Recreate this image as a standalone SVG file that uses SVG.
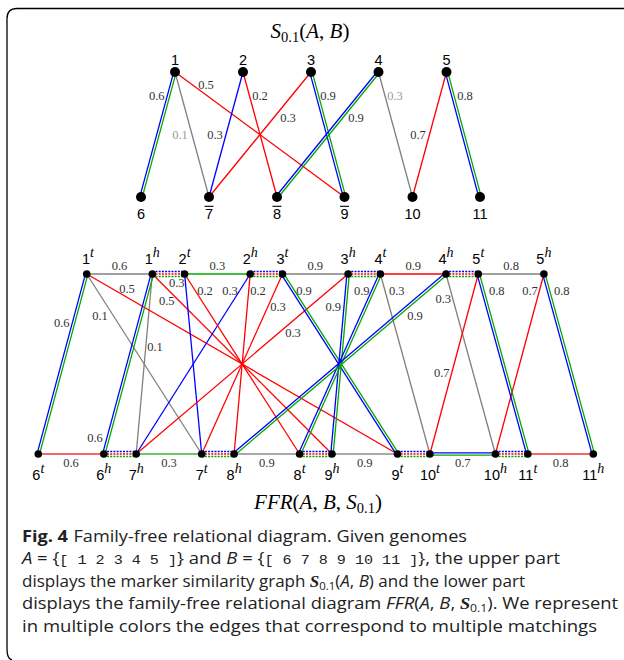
<svg xmlns="http://www.w3.org/2000/svg" width="624" height="660" viewBox="0 0 624 660">
<style>
.e{fill:none;stroke-width:1.3}
.b{stroke:#0000ff}.r{stroke:#ff0000}.g{stroke:#00a800}.k{stroke:#808080}
.d{stroke-dasharray:2 1.2}
.lr{stroke:#f05050;stroke-width:2.2;opacity:.85}
.lg{stroke:#50c050;stroke-width:2.2;opacity:.85}
.lk{stroke:#a8a8a8;stroke-width:2.2}
.w{font-family:"Liberation Serif",serif;font-size:12.5px;fill:#333;text-anchor:middle}
.wg{fill:#999}
.nl{font-family:"Liberation Sans",sans-serif;font-size:14.5px;fill:#000;text-anchor:middle}
.sup{font-family:"Liberation Serif",serif;font-style:italic;font-size:14px}
.m{font-family:"Liberation Serif",serif;font-size:21px;fill:#000;text-anchor:middle}
.i{font-style:italic}
.cap{font-family:"Open Sans",sans-serif;font-size:16.5px;fill:#222}
.mono{font-family:"Liberation Mono",monospace;font-size:13.5px}
</style>
<path d="M624 8.5H17Q7 8.5 7 18.5V649Q7 659 12 660" fill="none" stroke="#000" stroke-width="1.3"/>
<text class="m" x="310" y="38"><tspan class="i">S</tspan><tspan font-size="14.5" dy="4">0.1</tspan><tspan dy="-4">(</tspan><tspan class="i">A</tspan>, <tspan class="i">B</tspan>)</text>
<g id="top-edges">
<line class="e b" x1="173.84" y1="71.69" x2="139.84" y2="196.69"/>
<line class="e g" x1="176.16" y1="72.32" x2="142.16" y2="197.32"/>
<line class="e k" x1="175" y1="72" x2="209" y2="197"/>
<line class="e r" x1="175" y1="72" x2="344.5" y2="197"/>
<line class="e b" x1="243" y1="72" x2="209" y2="197"/>
<line class="e r" x1="243" y1="72" x2="277" y2="197"/>
<line class="e r" x1="311" y1="72" x2="209" y2="197"/>
<line class="e b" x1="309.84" y1="72.31" x2="343.34" y2="197.31"/>
<line class="e g" x1="312.16" y1="71.69" x2="345.66" y2="196.69"/>
<line class="e b" x1="377.57" y1="71.24" x2="276.07" y2="196.24"/>
<line class="e g" x1="379.43" y1="72.76" x2="277.93" y2="197.76"/>
<line class="e k" x1="378.5" y1="72" x2="412.5" y2="197"/>
<line class="e r" x1="446.5" y1="72" x2="412.5" y2="197"/>
<line class="e b" x1="445.34" y1="72.31" x2="478.84" y2="197.31"/>
<line class="e g" x1="447.66" y1="71.69" x2="481.16" y2="196.69"/>
</g>
<g id="top-weights">
<text class="w" x="156.7" y="100">0.6</text>
<text class="w wg" x="180" y="139">0.1</text>
<text class="w" x="206" y="89">0.5</text>
<text class="w" x="215" y="139">0.3</text>
<text class="w" x="260" y="100">0.2</text>
<text class="w" x="288" y="122">0.3</text>
<text class="w" x="328" y="100">0.9</text>
<text class="w" x="356" y="122">0.9</text>
<text class="w wg" x="395" y="100">0.3</text>
<text class="w" x="418" y="139">0.7</text>
<text class="w" x="465" y="100">0.8</text>
</g>
<g id="top-nodes">
<g id="n1"><circle cx="175" cy="72" r="5"/><text class="nl" x="175" y="65">1</text></g>
<g id="n2"><circle cx="243" cy="72" r="5"/><text class="nl" x="243" y="65">2</text></g>
<g id="n3"><circle cx="311" cy="72" r="5"/><text class="nl" x="311" y="65">3</text></g>
<g id="n4"><circle cx="378.5" cy="72" r="5"/><text class="nl" x="378.5" y="65">4</text></g>
<g id="n5"><circle cx="446.5" cy="72" r="5"/><text class="nl" x="446.5" y="65">5</text></g>
<g id="n6"><circle cx="141" cy="197" r="5"/><text class="nl" x="141" y="219">6</text></g>
<g id="n7"><circle cx="209" cy="197" r="5"/><text class="nl" x="209" y="219">7</text><line x1="204.5" y1="206.3" x2="213.5" y2="206.3" stroke="#000" stroke-width="1.1"/></g>
<g id="n8"><circle cx="277" cy="197" r="5"/><text class="nl" x="277" y="219">8</text><line x1="272.5" y1="206.3" x2="281.5" y2="206.3" stroke="#000" stroke-width="1.1"/></g>
<g id="n9"><circle cx="344.5" cy="197" r="5"/><text class="nl" x="344.5" y="219">9</text><line x1="340" y1="206.3" x2="349" y2="206.3" stroke="#000" stroke-width="1.1"/></g>
<g id="n10"><circle cx="412.5" cy="197" r="5"/><text class="nl" x="412.5" y="219">10</text></g>
<g id="n11"><circle cx="480" cy="197" r="5"/><text class="nl" x="480" y="219">11</text></g>
</g>
<g id="ffr-edges">
<line class="e k" x1="86.7" y1="274" x2="152.3" y2="274"/>
<line class="e g" x1="184.6" y1="274" x2="250.2" y2="274"/>
<line class="e k" x1="282.5" y1="274" x2="348.1" y2="274"/>
<line class="e r" x1="380.4" y1="274" x2="446" y2="274"/>
<line class="e k" x1="478.3" y1="274" x2="543.9" y2="274"/>
<line class="lr" x1="38.3" y1="454" x2="103.8" y2="454"/>
<line class="lg" x1="136.2" y1="454" x2="201.7" y2="454"/>
<line class="lk" x1="234.1" y1="454" x2="299.6" y2="454"/>
<line class="lk" x1="332" y1="454" x2="397.5" y2="454"/>
<line class="e b" x1="429.9" y1="452.8" x2="495.4" y2="452.8"/>
<line class="e g" x1="429.9" y1="455.2" x2="495.4" y2="455.2"/>
<line class="lr" x1="527.8" y1="454" x2="593.3" y2="454"/>
<line class="e k" x1="86.7" y1="274" x2="201.7" y2="454"/>
<line class="e k" x1="152.3" y1="274" x2="136.2" y2="454"/>
<line class="e r" x1="86.7" y1="274" x2="397.5" y2="454"/>
<line class="e r" x1="152.3" y1="274" x2="332" y2="454"/>
<line class="e b" x1="184.6" y1="274" x2="201.7" y2="454"/>
<line class="e b" x1="250.2" y1="274" x2="136.2" y2="454"/>
<line class="e r" x1="184.6" y1="274" x2="299.6" y2="454"/>
<line class="e r" x1="250.2" y1="274" x2="234.1" y2="454"/>
<line class="e r" x1="282.5" y1="274" x2="201.7" y2="454"/>
<line class="e r" x1="348.1" y1="274" x2="136.2" y2="454"/>
<line class="e k" x1="380.4" y1="274" x2="429.9" y2="454"/>
<line class="e k" x1="446" y1="274" x2="495.4" y2="454"/>
<line class="e r" x1="478.3" y1="274" x2="429.9" y2="454"/>
<line class="e r" x1="543.9" y1="274" x2="495.4" y2="454"/>
<line class="e b" x1="85.54" y1="273.69" x2="37.14" y2="453.69"/>
<line class="e g" x1="87.86" y1="274.31" x2="39.46" y2="454.31"/>
<line class="e b" x1="151.14" y1="273.69" x2="102.64" y2="453.69"/>
<line class="e g" x1="153.46" y1="274.31" x2="104.96" y2="454.31"/>
<line class="e b" x1="281.49" y1="274.65" x2="396.49" y2="454.65"/>
<line class="e g" x1="283.51" y1="273.35" x2="398.51" y2="453.35"/>
<line class="e b" x1="346.9" y1="273.89" x2="330.8" y2="453.89"/>
<line class="e g" x1="349.3" y1="274.11" x2="333.2" y2="454.11"/>
<line class="e b" x1="379.3" y1="273.51" x2="298.5" y2="453.51"/>
<line class="e g" x1="381.5" y1="274.49" x2="300.7" y2="454.49"/>
<line class="e b" x1="445.22" y1="273.09" x2="233.32" y2="453.09"/>
<line class="e g" x1="446.78" y1="274.92" x2="234.88" y2="454.92"/>
<line class="e b" x1="477.14" y1="274.32" x2="526.64" y2="454.32"/>
<line class="e g" x1="479.46" y1="273.68" x2="528.96" y2="453.68"/>
<line class="e b" x1="542.74" y1="274.32" x2="592.14" y2="454.32"/>
<line class="e g" x1="545.06" y1="273.68" x2="594.46" y2="453.68"/>
<g class="d">
<line class="e b" x1="152.3" y1="271.5" x2="184.6" y2="271.5"/><line class="e r" x1="152.3" y1="274" x2="184.6" y2="274"/><line class="e g" x1="152.3" y1="276.5" x2="184.6" y2="276.5"/>
<line class="e b" x1="250.2" y1="271.5" x2="282.5" y2="271.5"/><line class="e r" x1="250.2" y1="274" x2="282.5" y2="274"/><line class="e g" x1="250.2" y1="276.5" x2="282.5" y2="276.5"/>
<line class="e b" x1="348.1" y1="271.5" x2="380.4" y2="271.5"/><line class="e r" x1="348.1" y1="274" x2="380.4" y2="274"/><line class="e g" x1="348.1" y1="276.5" x2="380.4" y2="276.5"/>
<line class="e b" x1="446" y1="271.5" x2="478.3" y2="271.5"/><line class="e r" x1="446" y1="274" x2="478.3" y2="274"/><line class="e g" x1="446" y1="276.5" x2="478.3" y2="276.5"/>
<line class="e b" x1="103.8" y1="451.5" x2="136.2" y2="451.5"/><line class="e r" x1="103.8" y1="454" x2="136.2" y2="454"/><line class="e g" x1="103.8" y1="456.5" x2="136.2" y2="456.5"/>
<line class="e b" x1="201.7" y1="451.5" x2="234.1" y2="451.5"/><line class="e r" x1="201.7" y1="454" x2="234.1" y2="454"/><line class="e g" x1="201.7" y1="456.5" x2="234.1" y2="456.5"/>
<line class="e b" x1="299.6" y1="451.5" x2="332" y2="451.5"/><line class="e r" x1="299.6" y1="454" x2="332" y2="454"/><line class="e g" x1="299.6" y1="456.5" x2="332" y2="456.5"/>
<line class="e b" x1="397.5" y1="451.5" x2="429.9" y2="451.5"/><line class="e r" x1="397.5" y1="454" x2="429.9" y2="454"/><line class="e g" x1="397.5" y1="456.5" x2="429.9" y2="456.5"/>
<line class="e b" x1="495.4" y1="451.5" x2="527.8" y2="451.5"/><line class="e r" x1="495.4" y1="454" x2="527.8" y2="454"/><line class="e g" x1="495.4" y1="456.5" x2="527.8" y2="456.5"/>
</g>
</g>
<g id="ffr-weights">
<text class="w" x="119.5" y="270">0.6</text>
<text class="w" x="217.4" y="270">0.3</text>
<text class="w" x="315.3" y="270">0.9</text>
<text class="w" x="413.2" y="270">0.9</text>
<text class="w" x="511.1" y="270">0.8</text>
<text class="w" x="71" y="467">0.6</text>
<text class="w" x="169" y="467">0.3</text>
<text class="w" x="266.9" y="467">0.9</text>
<text class="w" x="364.8" y="467">0.9</text>
<text class="w" x="462.7" y="467">0.7</text>
<text class="w" x="560.6" y="467">0.8</text>
<text class="w" x="127" y="293">0.5</text>
<text class="w" x="176.7" y="287">0.3</text>
<text class="w" x="166.7" y="304.7">0.5</text>
<text class="w" x="205" y="295">0.2</text>
<text class="w" x="230" y="295">0.3</text>
<text class="w" x="258" y="295">0.2</text>
<text class="w" x="304" y="295">0.9</text>
<text class="w" x="278" y="311">0.3</text>
<text class="w" x="293" y="337">0.3</text>
<text class="w" x="100" y="320">0.1</text>
<text class="w" x="61.7" y="327">0.6</text>
<text class="w" x="155" y="351">0.1</text>
<text class="w" x="95" y="441.7">0.6</text>
<text class="w" x="361.7" y="295">0.9</text>
<text class="w" x="333.3" y="311">0.9</text>
<text class="w" x="396.7" y="295">0.3</text>
<text class="w" x="443.3" y="303.3">0.3</text>
<text class="w" x="415" y="320">0.9</text>
<text class="w" x="496.7" y="295">0.8</text>
<text class="w" x="530" y="295">0.7</text>
<text class="w" x="561.7" y="295">0.8</text>
<text class="w" x="441.7" y="377.3">0.7</text>
</g>
<g id="ffr-nodes">
<g id="a1t"><circle cx="86.7" cy="274" r="3.8"/><text class="nl" x="88" y="263.5">1<tspan class="sup" dy="-6.5">t</tspan></text></g>
<g id="a1h"><circle cx="152.3" cy="274" r="3.8"/><text class="nl" x="152.3" y="263.5">1<tspan class="sup" dy="-6.5">h</tspan></text></g>
<g id="a2t"><circle cx="184.6" cy="274" r="3.8"/><text class="nl" x="184.6" y="263.5">2<tspan class="sup" dy="-6.5">t</tspan></text></g>
<g id="a2h"><circle cx="250.2" cy="274" r="3.8"/><text class="nl" x="250.2" y="263.5">2<tspan class="sup" dy="-6.5">h</tspan></text></g>
<g id="a3t"><circle cx="282.5" cy="274" r="3.8"/><text class="nl" x="282.5" y="263.5">3<tspan class="sup" dy="-6.5">t</tspan></text></g>
<g id="a3h"><circle cx="348.1" cy="274" r="3.8"/><text class="nl" x="348.1" y="263.5">3<tspan class="sup" dy="-6.5">h</tspan></text></g>
<g id="a4t"><circle cx="380.4" cy="274" r="3.8"/><text class="nl" x="380.4" y="263.5">4<tspan class="sup" dy="-6.5">t</tspan></text></g>
<g id="a4h"><circle cx="446" cy="274" r="3.8"/><text class="nl" x="446" y="263.5">4<tspan class="sup" dy="-6.5">h</tspan></text></g>
<g id="a5t"><circle cx="478.3" cy="274" r="3.8"/><text class="nl" x="478.3" y="263.5">5<tspan class="sup" dy="-6.5">t</tspan></text></g>
<g id="a5h"><circle cx="543.9" cy="274" r="3.8"/><text class="nl" x="543.9" y="263.5">5<tspan class="sup" dy="-6.5">h</tspan></text></g>
<g id="b6t"><circle cx="38.3" cy="454" r="3.8"/><text class="nl" x="38.3" y="480">6<tspan class="sup" dy="-7">t</tspan></text></g>
<g id="b6h"><circle cx="103.8" cy="454" r="3.8"/><text class="nl" x="103.8" y="480">6<tspan class="sup" dy="-7">h</tspan></text></g>
<g id="b7h"><circle cx="136.2" cy="454" r="3.8"/><text class="nl" x="136.2" y="480">7<tspan class="sup" dy="-7">h</tspan></text></g>
<g id="b7t"><circle cx="201.7" cy="454" r="3.8"/><text class="nl" x="201.7" y="480">7<tspan class="sup" dy="-7">t</tspan></text></g>
<g id="b8h"><circle cx="234.1" cy="454" r="3.8"/><text class="nl" x="234.1" y="480">8<tspan class="sup" dy="-7">h</tspan></text></g>
<g id="b8t"><circle cx="299.6" cy="454" r="3.8"/><text class="nl" x="299.6" y="480">8<tspan class="sup" dy="-7">t</tspan></text></g>
<g id="b9h"><circle cx="332" cy="454" r="3.8"/><text class="nl" x="332" y="480">9<tspan class="sup" dy="-7">h</tspan></text></g>
<g id="b9t"><circle cx="397.5" cy="454" r="3.8"/><text class="nl" x="397.5" y="480">9<tspan class="sup" dy="-7">t</tspan></text></g>
<g id="b10t"><circle cx="429.9" cy="454" r="3.8"/><text class="nl" x="429.9" y="480">10<tspan class="sup" dy="-7">t</tspan></text></g>
<g id="b10h"><circle cx="495.4" cy="454" r="3.8"/><text class="nl" x="495.4" y="480">10<tspan class="sup" dy="-7">h</tspan></text></g>
<g id="b11t"><circle cx="527.8" cy="454" r="3.8"/><text class="nl" x="527.8" y="480">11<tspan class="sup" dy="-7">t</tspan></text></g>
<g id="b11h"><circle cx="593.3" cy="454" r="3.8"/><text class="nl" x="593.3" y="480">11<tspan class="sup" dy="-7">h</tspan></text></g>
</g>
<text class="m" x="318" y="509"><tspan class="i">FFR</tspan>(<tspan class="i">A</tspan>, <tspan class="i">B</tspan>, <tspan class="i">S</tspan><tspan font-size="14.5" dy="4">0.1</tspan><tspan dy="-4">)</tspan></text>
<g id="caption" class="cap">
<text x="22" y="541.5" textLength="445" lengthAdjust="spacingAndGlyphs"><tspan font-weight="bold">Fig. 4</tspan><tspan dx="5">Family-free relational diagram. Given genomes</tspan></text>
<text x="22" y="564" textLength="538" lengthAdjust="spacingAndGlyphs"><tspan class="i">A</tspan> = {<tspan class="mono">[ 1 2 3 4 5 ]</tspan>} and <tspan class="i">B</tspan> = {<tspan class="mono">[ 6 7 8 9 10 11 ]</tspan>}, the upper part</text>
<text x="22" y="586.5" textLength="503" lengthAdjust="spacingAndGlyphs">displays the marker similarity graph <tspan font-family="Liberation Serif,serif" font-style="italic" font-weight="bold">S</tspan><tspan font-size="11" dy="3">0.1</tspan><tspan dy="-3">(</tspan><tspan class="i">A</tspan>, <tspan class="i">B</tspan>) and the lower part</text>
<text x="22" y="609" textLength="596" lengthAdjust="spacingAndGlyphs">displays the family-free relational diagram <tspan class="i">FFR</tspan>(<tspan class="i">A</tspan>, <tspan class="i">B</tspan>, <tspan font-family="Liberation Serif,serif" font-style="italic" font-weight="bold">S</tspan><tspan font-size="11" dy="3">0.1</tspan><tspan dy="-3">). We represent</tspan></text>
<text x="22" y="631.5" textLength="575" lengthAdjust="spacingAndGlyphs">in multiple colors the edges that correspond to multiple matchings</text>
</g>
</svg>
